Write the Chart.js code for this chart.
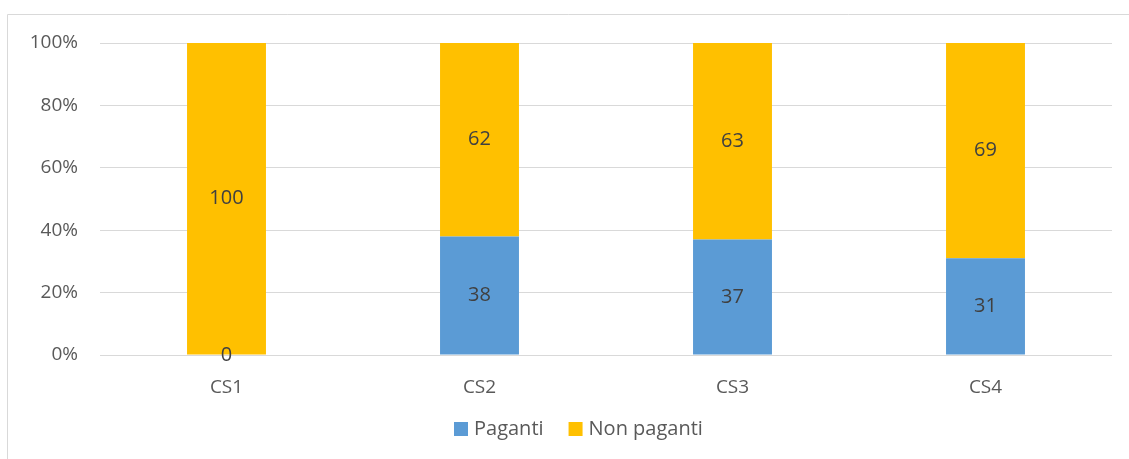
<!DOCTYPE html>
<html>
<head>
<meta charset="utf-8">
<script src="https://cdn.jsdelivr.net/npm/chart.js@4"></script>
<style>
  html, body { margin: 0; padding: 0; background: #fff; }
  #wrap { width: 1129px; height: 459px; }
</style>
</head>
<body>
<div id="wrap"><canvas id="myChart" width="1129" height="459"></canvas></div>
<script>
const categories = ['CS1', 'CS2', 'CS3', 'CS4'];
const paganti = [0, 38, 37, 31];
const nonPaganti = [100, 62, 63, 69];
const percentTicks = [0, 20, 40, 60, 80, 100];

const FONT = "'Open Sans', sans-serif";
const GRID = '#d9d9d9';
const TEXT = '#595959';

// outer frame of the chart box (only top and left edges show)
const frame = {
    id: 'frame',
    beforeDraw(chart) {
        const c = chart.ctx;
        c.save();
        c.strokeStyle = GRID;
        c.lineWidth = 1;
        c.beginPath();
        c.moveTo(7.5, chart.height);
        c.lineTo(7.5, 14.5);
        c.lineTo(chart.width, 14.5);
        c.stroke();
        c.restore();
    }
};

// value in the middle of each segment
const segmentLabels = {
    id: 'segmentLabels',
    afterDatasetsDraw(chart) {
        const c = chart.ctx;
        c.save();
        c.font = '20px ' + FONT;
        c.fillStyle = '#404040';
        c.textAlign = 'center';
        c.textBaseline = 'middle';
        chart.data.datasets.forEach((ds, i) => {
            chart.getDatasetMeta(i).data.forEach((bar, j) => {
                const v = ds.data[j];
                c.fillText(String(v), bar.x, (bar.y + bar.base) / 2);
            });
        });
        c.restore();
    }
};

// legend row under the axis, centred on the chart box
const bottomLegend = {
    id: 'bottomLegend',
    afterDraw(chart) {
        const c = chart.ctx;
        const box = 14, gapText = 6, gapItem = 25;
        const cx = 578, cy = 429;
        c.save();
        c.font = '20px ' + FONT;
        c.textBaseline = 'middle';
        const items = chart.data.datasets.map(ds => ({
            label: ds.label, color: ds.backgroundColor, w: c.measureText(ds.label).width
        }));
        let total = items.reduce((s, it) => s + box + gapText + it.w, 0) + gapItem * (items.length - 1);
        let x = Math.round(cx - total / 2);
        items.forEach(it => {
            c.fillStyle = it.color;
            c.fillRect(x, cy - box / 2, box, box);
            c.fillStyle = TEXT;
            c.fillText(it.label, x + box + gapText, cy);
            x += box + gapText + it.w + gapItem;
        });
        c.restore();
    }
};

const data = {
    labels: categories,
    datasets: [
        {
            label: 'Paganti',
            data: paganti,
            backgroundColor: '#5b9bd5',
        },
        {
            label: 'Non paganti',
            data: nonPaganti,
            backgroundColor: '#ffc000',
        },
    ],
};

const config = {
    type: 'bar',
    data: data,
    options: {
        responsive: false,
        animation: false,
        barPercentage: 0.312,
        categoryPercentage: 1,
        layout: { padding: { top: 43, right: 17, left: 0, bottom: 64 } },
        plugins: {
            tooltip: { enabled: false },
            legend: { display: false },
        },
        scales: {
            x: {
                stacked: true,
                afterFit(scale) { scale.height = 40; },
                grid: { display: false },
                border: { display: false },
                ticks: {
                    padding: 13,
                    color: TEXT,
                    font: { family: FONT, size: 19 },
                },
            },
            y: {
                stacked: true,
                min: 0,
                max: 100,
                afterFit(scale) { scale.width = 100; },
                afterBuildTicks(scale) {
                    scale.ticks = percentTicks.map(v => ({ value: v }));
                },
                grid: { color: GRID, drawTicks: false },
                border: { display: false },
                ticks: {
                    padding: 22,
                    color: TEXT,
                    font: { family: FONT, size: 19 },
                    callback: v => v + '%',
                },
            },
        },
    },
    plugins: [frame, segmentLabels, bottomLegend],
};

const myChart = new Chart(document.getElementById('myChart').getContext('2d'), config);
</script>
</body>
</html>
